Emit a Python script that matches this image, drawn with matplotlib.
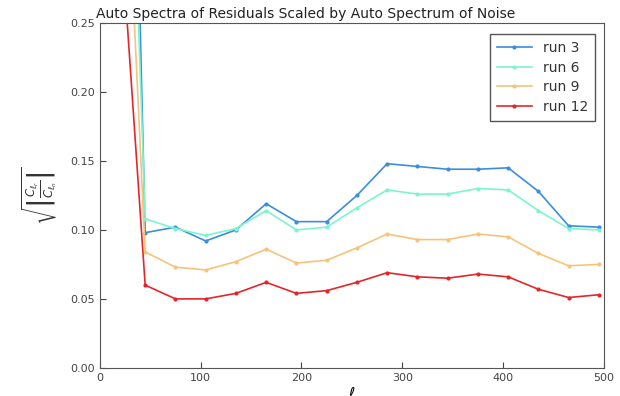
import matplotlib
matplotlib.use('Agg')
import matplotlib.pyplot as plt
import numpy as np

ell = [15, 45, 75, 105, 135, 165, 195, 225, 255, 285, 315, 345, 375, 405, 435, 465, 495]

run3 = [1.0, 0.098, 0.102, 0.092, 0.100, 0.119, 0.106, 0.106, 0.125, 0.148, 0.146, 0.144, 0.144, 0.145, 0.128, 0.103, 0.102]
run6 = [0.75, 0.108, 0.101, 0.096, 0.101, 0.114, 0.100, 0.102, 0.116, 0.129, 0.126, 0.126, 0.130, 0.129, 0.114, 0.101, 0.100]
run9 = [0.55, 0.084, 0.073, 0.071, 0.077, 0.086, 0.076, 0.078, 0.087, 0.097, 0.093, 0.093, 0.097, 0.095, 0.083, 0.074, 0.075]
run12 = [0.38, 0.060, 0.050, 0.050, 0.054, 0.062, 0.054, 0.056, 0.062, 0.069, 0.066, 0.065, 0.068, 0.066, 0.057, 0.051, 0.053]

labels = ['run 3', 'run 6', 'run 9', 'run 12']
colors = ['#3b8ede', '#7cf5cf', '#f5c47a', '#e4262a']

fig = plt.figure(figsize=(6.2, 3.96), dpi=100)
ax = fig.add_axes([0.161, 0.071, 0.813, 0.871])

for y, lab, col in zip([run3, run6, run9, run12], labels, colors):
    ax.plot(ell, y, '.-', color=col, label=lab, markersize=4, linewidth=1.2)

ax.set_xlim(0, 500)
ax.set_ylim(0, 0.25)
ax.set_xticks([0, 100, 200, 300, 400, 500])
ax.set_yticks(np.arange(0, 0.26, 0.05))
ax.yaxis.set_major_formatter(matplotlib.ticker.FormatStrFormatter('%.2f'))
ax.tick_params(direction='in', labelsize=8, colors='#444444', length=4)
for s in ax.spines.values():
    s.set_color('#555555')

# title sits left of the axes centre in the original
fig.text(306 / 620, 1 - 18 / 396, 'Auto Spectra of Residuals Scaled by Auto Spectrum of Noise',
         fontsize=10, color='#222222', ha='center', va='baseline')
ax.set_xlabel(r'$\ell$', fontsize=11, labelpad=2)
ax.set_ylabel(r'$\sqrt{\left|\frac{C_{\ell_r}}{C_{\ell_n}}\right|}$', fontsize=12, labelpad=8, color='#333333')

leg = ax.legend(loc='upper right', fontsize=10, fancybox=False, framealpha=1, handlelength=2.5,
                borderpad=0.5, labelspacing=0.4, bbox_to_anchor=(0.996, 0.988))
leg.get_frame().set_edgecolor('#555555')
for t in leg.get_texts():
    t.set_color('#333333')

fig.savefig('out.png', dpi=100)
